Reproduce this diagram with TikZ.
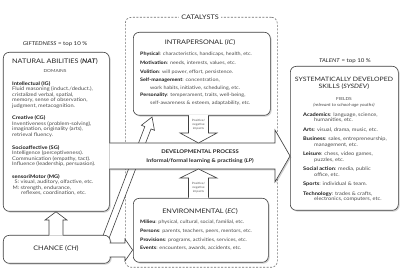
\documentclass[tikz,border=0pt]{standalone}
\usepackage{fontspec}
\setmainfont{Lato}[FakeStretch=1.15]
\usetikzlibrary{shadows}
\begin{document}
\begin{tikzpicture}[x=1pt,y=-1pt,
  line/.style={draw=black!75, line width=0.6pt},
  shad/.style={drop shadow={shadow xshift=1.3pt, shadow yshift=-1.3pt, opacity=0.3, fill=black!60}},
  box/.style={line, fill=white, rounded corners=6pt, shad, inner sep=0, anchor=north west},
  catbox/.style={draw=black!55, line width=0.6pt, dash pattern=on 2pt off 1.5pt, rounded corners=6pt, inner sep=0, anchor=north west},
  ttl/.style={inner sep=0, font=\fontsize{6.3}{7.2}\selectfont, text=black!85},
  lab/.style={inner sep=0, font=\fontsize{5.3}{6}\selectfont, text=black!85},
  sml/.style={inner sep=0, font=\fontsize{4.2}{5}\selectfont, text=black!70},
  tny/.style={inner sep=0, align=center, font=\fontsize{2.9}{3.8}\selectfont, text=black!65},
  bd/.style={anchor=base west, inner sep=0, font=\fontsize{4.7}{5.4}\selectfont, text=black!70},
  bdn/.style={bd, font=\fontsize{4.9}{5.4}\selectfont},
  bdw/.style={bd, font=\fontsize{4.7}{7.6}\selectfont},
  bdt/.style={bd, font=\fontsize{4.9}{5.5}\selectfont}]
\useasboundingbox (0,0) rectangle (400,278);
\fill[white] (0,0) rectangle (400,278);
\newcommand{\lb}[1]{\textbf{\textcolor{black!90}{#1}}}
\newcommand{\ml}[1]{\begin{tabular}[t]{@{}l@{}}#1\end{tabular}}

% catalysts dashed frame
\node[catbox, minimum width=152pt, minimum height=250pt] (cat) at (125,17) {};
\node[ttl, fill=white, inner xsep=2pt, inner ysep=1pt] (catl) at (200,17) {CATALYSTS};

% slanted arrow chance -> intrapersonal
\begin{scope}[shift={(106,237)}, rotate=69]
\filldraw[line, fill=white] (0,-3.3) -- (117,-3.3) -- (117,-7) -- (128.5,0) -- (117,7) -- (117,3.3) -- (0,3.3);
\end{scope}

% boxes
\node[box, minimum width=106pt, minimum height=159pt] (nat) at (3,52) {};
\node[box, minimum width=107pt, minimum height=28pt] (chance) at (3,235) {};
\node[box, minimum width=137pt, minimum height=83pt] (ic) at (133,32) {};
\node[box, minimum width=135pt, minimum height=64pt] (ec) at (133,198) {};
\node[box, minimum width=108pt, minimum height=144pt] (tal) at (290,66) {};

% developmental process band
\fill[white, shad] (109.4,143) -- (275,143) -- (275,130) -- (290,156) -- (275,182) -- (275,169) -- (109.4,169) -- cycle;
\draw[line] (109.3,143) -- (275,143) -- (275,130) -- (290,156) -- (275,182) -- (275,169) -- (109.3,169);

% chance -> NAT
\fill[white] (49,235.6) -- (49,220) -- (45,220) -- (56,211.8) -- (67,220) -- (63,220) -- (63,235.6) -- cycle;
\draw[line] (49,235.3) -- (49,220) -- (45,220) -- (56,211.8) -- (67,220) -- (63,220) -- (63,235.3);
% chance -> EC
\fill[white] (109.4,243) -- (125,243) -- (125,239) -- (132.6,250) -- (125,261) -- (125,257) -- (109.4,257) -- cycle;
\draw[line] (109.7,243) -- (125,243) -- (125,239) -- (132.6,250) -- (125,261) -- (125,257) -- (109.7,257);
% IC -> DP
\fill[white] (188.5,114.6) -- (188.5,133) -- (180,133) -- (198.5,143) -- (217,133) -- (208.5,133) -- (208.5,114.6) -- cycle;
\draw[line] (188.5,115.3) -- (188.5,133) -- (180,133) -- (198.5,143) -- (217,133) -- (208.5,133) -- (208.5,115.3);
% EC -> DP
\fill[white] (188.5,198.4) -- (188.5,178) -- (180,178) -- (198.5,169) -- (217,178) -- (208.5,178) -- (208.5,198.4) -- cycle;
\draw[line] (188.5,197.7) -- (188.5,178) -- (180,178) -- (198.5,169) -- (217,178) -- (208.5,178) -- (208.5,197.7);
\node[tny] (imp1) at (198.5,124.5) {Positive/\\negative\\impacts};
\node[tny] (imp2) at (198.5,187.5) {Positive/\\negative\\impacts};

% DP text
\node[ttl, font=\fontsize{5.1}{6.5}\selectfont\bfseries, text=black!85] (dp1) at (200,152) {DEVELOPMENTAL PROCESS};
\node[ttl, font=\fontsize{5.1}{6.5}\selectfont\bfseries, text=black!85] (dp2) at (200,161) {Informal/formal learning \& practising (\textit{LP})};

% NAT
\node[lab] (gift) at (55,44) {\textit{GIFTEDNESS} = top 10 \%};
\node[ttl] (natt) at (55,62) {NATURAL ABILITIES (\textbf{\textit{NAT}})};
\node[sml] (dom) at (55,71) {DOMAINS};
\node[bdn] (ig) at (12,85.5) {\ml{\lb{Intellectual (IG)}\\Fluid reasoning (induct./deduct.),\\cristalized verbal, spatial,\\memory, sense of observation,\\judgment, metacognition.}};
\node[bdn] (cg) at (12,120) {\ml{\lb{Creative (CG)}\\Inventiveness (problem-solving),\\imagination, originality (arts),\\retrieval fluency.}};
\node[bdn] (sg) at (12,149.3) {\ml{\lb{Socioaffective (SG)}\\Intelligence (perceptiveness).\\Communication (empathy, tact).\\Influence (leadership, persuasion).}};
\node[bdn] (mg) at (12,178.5) {\ml{\lb{sensoriMotor (MG)}\\\makebox[7pt][r]{S:} visual, auditory, olfactive, etc.\\\makebox[7pt][r]{M:} strength, endurance,\\\hspace*{9pt}reflexes, coordination, etc.}};

% chance
\node[ttl] (cht) at (56,249) {CHANCE (\textit{CH})};

% IC
\node[ttl] (ict) at (200,43) {INTRAPERSONAL (\textit{IC})};
\node[bd] (ic1) at (140,55.8) {\lb{Physical}: characteristics, handicaps, health, etc.};
\node[bd] (ic2) at (140,64.6) {\lb{Motivation}: needs, interests, values, etc.};
\node[bd] (ic3) at (140,73.2) {\lb{Volition}: will power, effort, persistence.};
\node[bdw] (ic4) at (140,81.6) {\ml{\lb{Self-management}: concentration,\\\hspace*{10pt}work habits, initiative, scheduling, etc.}};
\node[bdw] (ic5) at (140,96.6) {\ml{\lb{Personality}: temperament, traits, well-being,\\\hspace*{10pt}self-awareness \& esteem, adaptability, etc.}};

% EC
\node[ttl] (ect) at (200,212) {ENVIRONMENTAL (\textit{EC})};
\node[bd] (ec1) at (140,223.6) {\lb{Milieu}: physical, cultural, social, familial, etc.};
\node[bd] (ec2) at (140,232.4) {\lb{Persons}: parents, teachers, peers, mentors, etc.};
\node[bd] (ec3) at (140,241.2) {\lb{Provisions}: programs, activities, services, etc.};
\node[bd] (ec4) at (140,250) {\lb{Events}: encounters, awards, accidents, etc.};

% Talent
\node[lab] (talent) at (345,61) {\textit{TALENT} = top 10 \%};
\node[ttl, align=center, font=\fontsize{6}{7}\selectfont] (talt) at (344,83.5) {SYSTEMATICALLY DEVELOPED\\SKILLS (\textit{SYSDEV})};
\node[sml] (fields) at (344,99) {FIELDS};
\node[sml] (relev) at (344,105) {\textit{(relevant to school-age youths)}};
\node[bdt] (t1) at (303,116.5) {\ml{\lb{Academics}: language, science,\\\hspace*{11pt}humanities, etc.}};
\node[bdt] (t2) at (303,131.5) {\lb{Arts}: visual, drama, music, etc.};
\node[bdt] (t3) at (303,141) {\ml{\lb{Business}: sales, entrepreneurship,\\\hspace*{11pt}management, etc.}};
\node[bdt] (t4) at (303,156) {\ml{\lb{Leisure}: chess, video games,\\\hspace*{11pt}puzzles, etc.}};
\node[bdt] (t5) at (303,171) {\ml{\lb{Social action}: media, public\\\hspace*{11pt}office, etc.}};
\node[bdt] (t6) at (303,186) {\lb{Sports}: individual \& team.};
\node[bdt] (t7) at (303,195.5) {\ml{\lb{Technology}: trades \& crafts,\\\hspace*{11pt}electronics, computers, etc.}};
\end{tikzpicture}
\end{document}
